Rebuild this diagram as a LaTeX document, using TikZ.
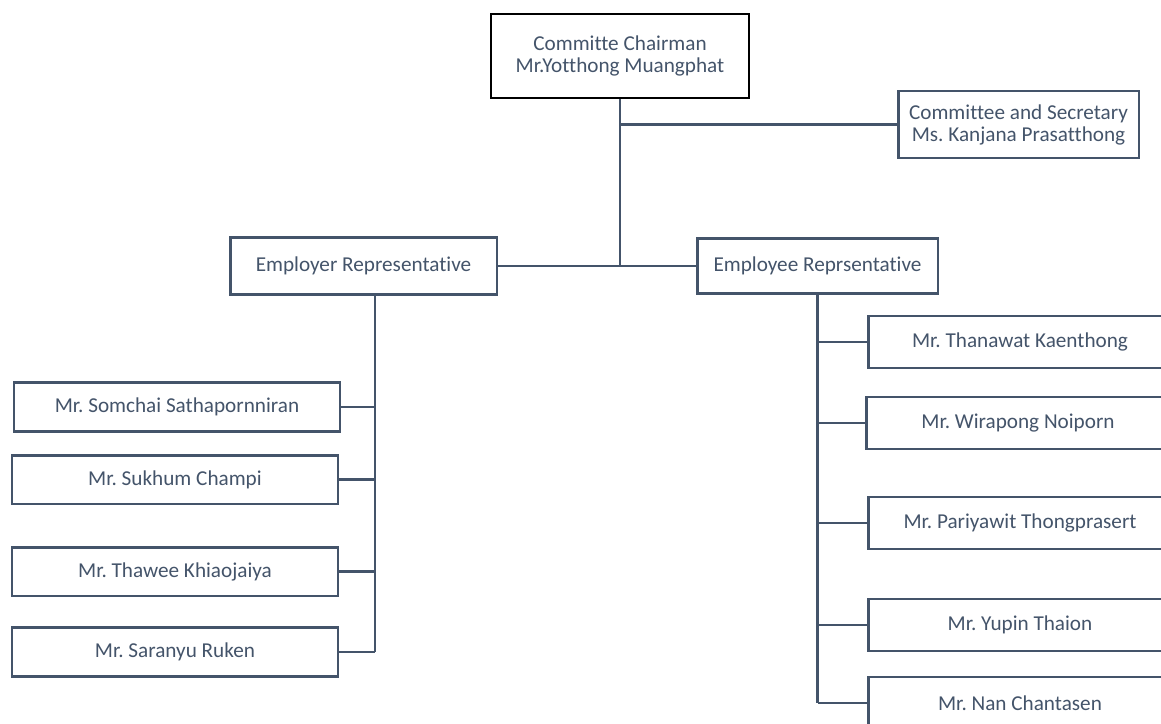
\documentclass[tikz,border=0pt]{standalone}
\usepackage{fontspec}
\setmainfont{Carlito}[Ligatures={NoCommon}]
\definecolor{slate}{HTML}{44546A}
\frenchspacing

\begin{document}
\begin{tikzpicture}[x=0.75pt,y=-0.75pt]
			\tikzstyle{every node}+=[inner sep=0pt, align=center, text=slate, font=\fontsize{15.9}{16.5}\selectfont]
			\tikzstyle{member}=[draw=slate, line width=2pt, fill=white, minimum width=244.5pt, minimum height=36.5pt]
			\tikzstyle{rmember}=[member, minimum width=227pt, minimum height=39pt]
			\tikzstyle{link}=[draw=slate, line width=2pt]
			\path[use as bounding box, clip] (0,0) rectangle (1161,724);
			% top
			\node [draw=black, line width=2pt, minimum width=193.5pt, minimum height=63pt] (chair) at (620,56) {Committe Chairman\\Mr.Yotthong Muangphat};
			\node [draw=slate, line width=2pt, minimum width=180.5pt, minimum height=50pt] (sec) at (1018.5,124.5) {Committee and Secretary\\Ms. Kanjana Prasatthong};
			\node [draw=slate, line width=2pt, minimum width=200pt, minimum height=43pt] (employer) at (363.5,266) {Employer Representative};
			\node [draw=slate, line width=2pt, minimum width=180.5pt, minimum height=41pt] (employee) at (817.5,266) {Employee Reprsentative};
			% employer side
			\node [member] (somchai) at (177,407) {Mr. Somchai Sathapornniran};
			\node [member] (sukhum) at (175,479.5) {Mr. Sukhum Champi};
			\node [member] (thawee) at (175,571.5) {Mr. Thawee Khiaojaiya};
			\node [member] (saranyu) at (175,652) {Mr. Saranyu Ruken};
			% employee side
			\node [rmember] (thanawat) at (1020,342) {Mr. Thanawat Kaenthong};
			\node [rmember] (wirapong) at (1018,423) {Mr. Wirapong Noiporn};
			\node [rmember] (pariyawit) at (1020,523) {Mr. Pariyawit Thongprasert};
			\node [rmember] (yupin) at (1020,625) {Mr. Yupin Thaion};
			\node [rmember] (nan) at (1020,703) {Mr. Nan Chantasen};
			% connectors
			\coordinate (lbus) at (375,295);
			\draw [link] (chair.south) -- (chair.south |- employer.east);
			\draw [link] (chair.south |- sec.west) -- (sec.west);
			\draw [link] (employer.east) -- (employee.west);
			\draw [link] (lbus) -- (lbus |- saranyu.east);
			\foreach \n in {somchai,sukhum,thawee,saranyu}
				\draw [link] (\n.east) -- (\n.east -| lbus);
			\draw [link] (employee.south) -- (employee.south |- nan.west);
			\foreach \n in {thanawat,wirapong,pariyawit,yupin,nan}
				\draw [link] (\n.west) -- (\n.west -| employee.south);
		\end{tikzpicture}
\end{document}
